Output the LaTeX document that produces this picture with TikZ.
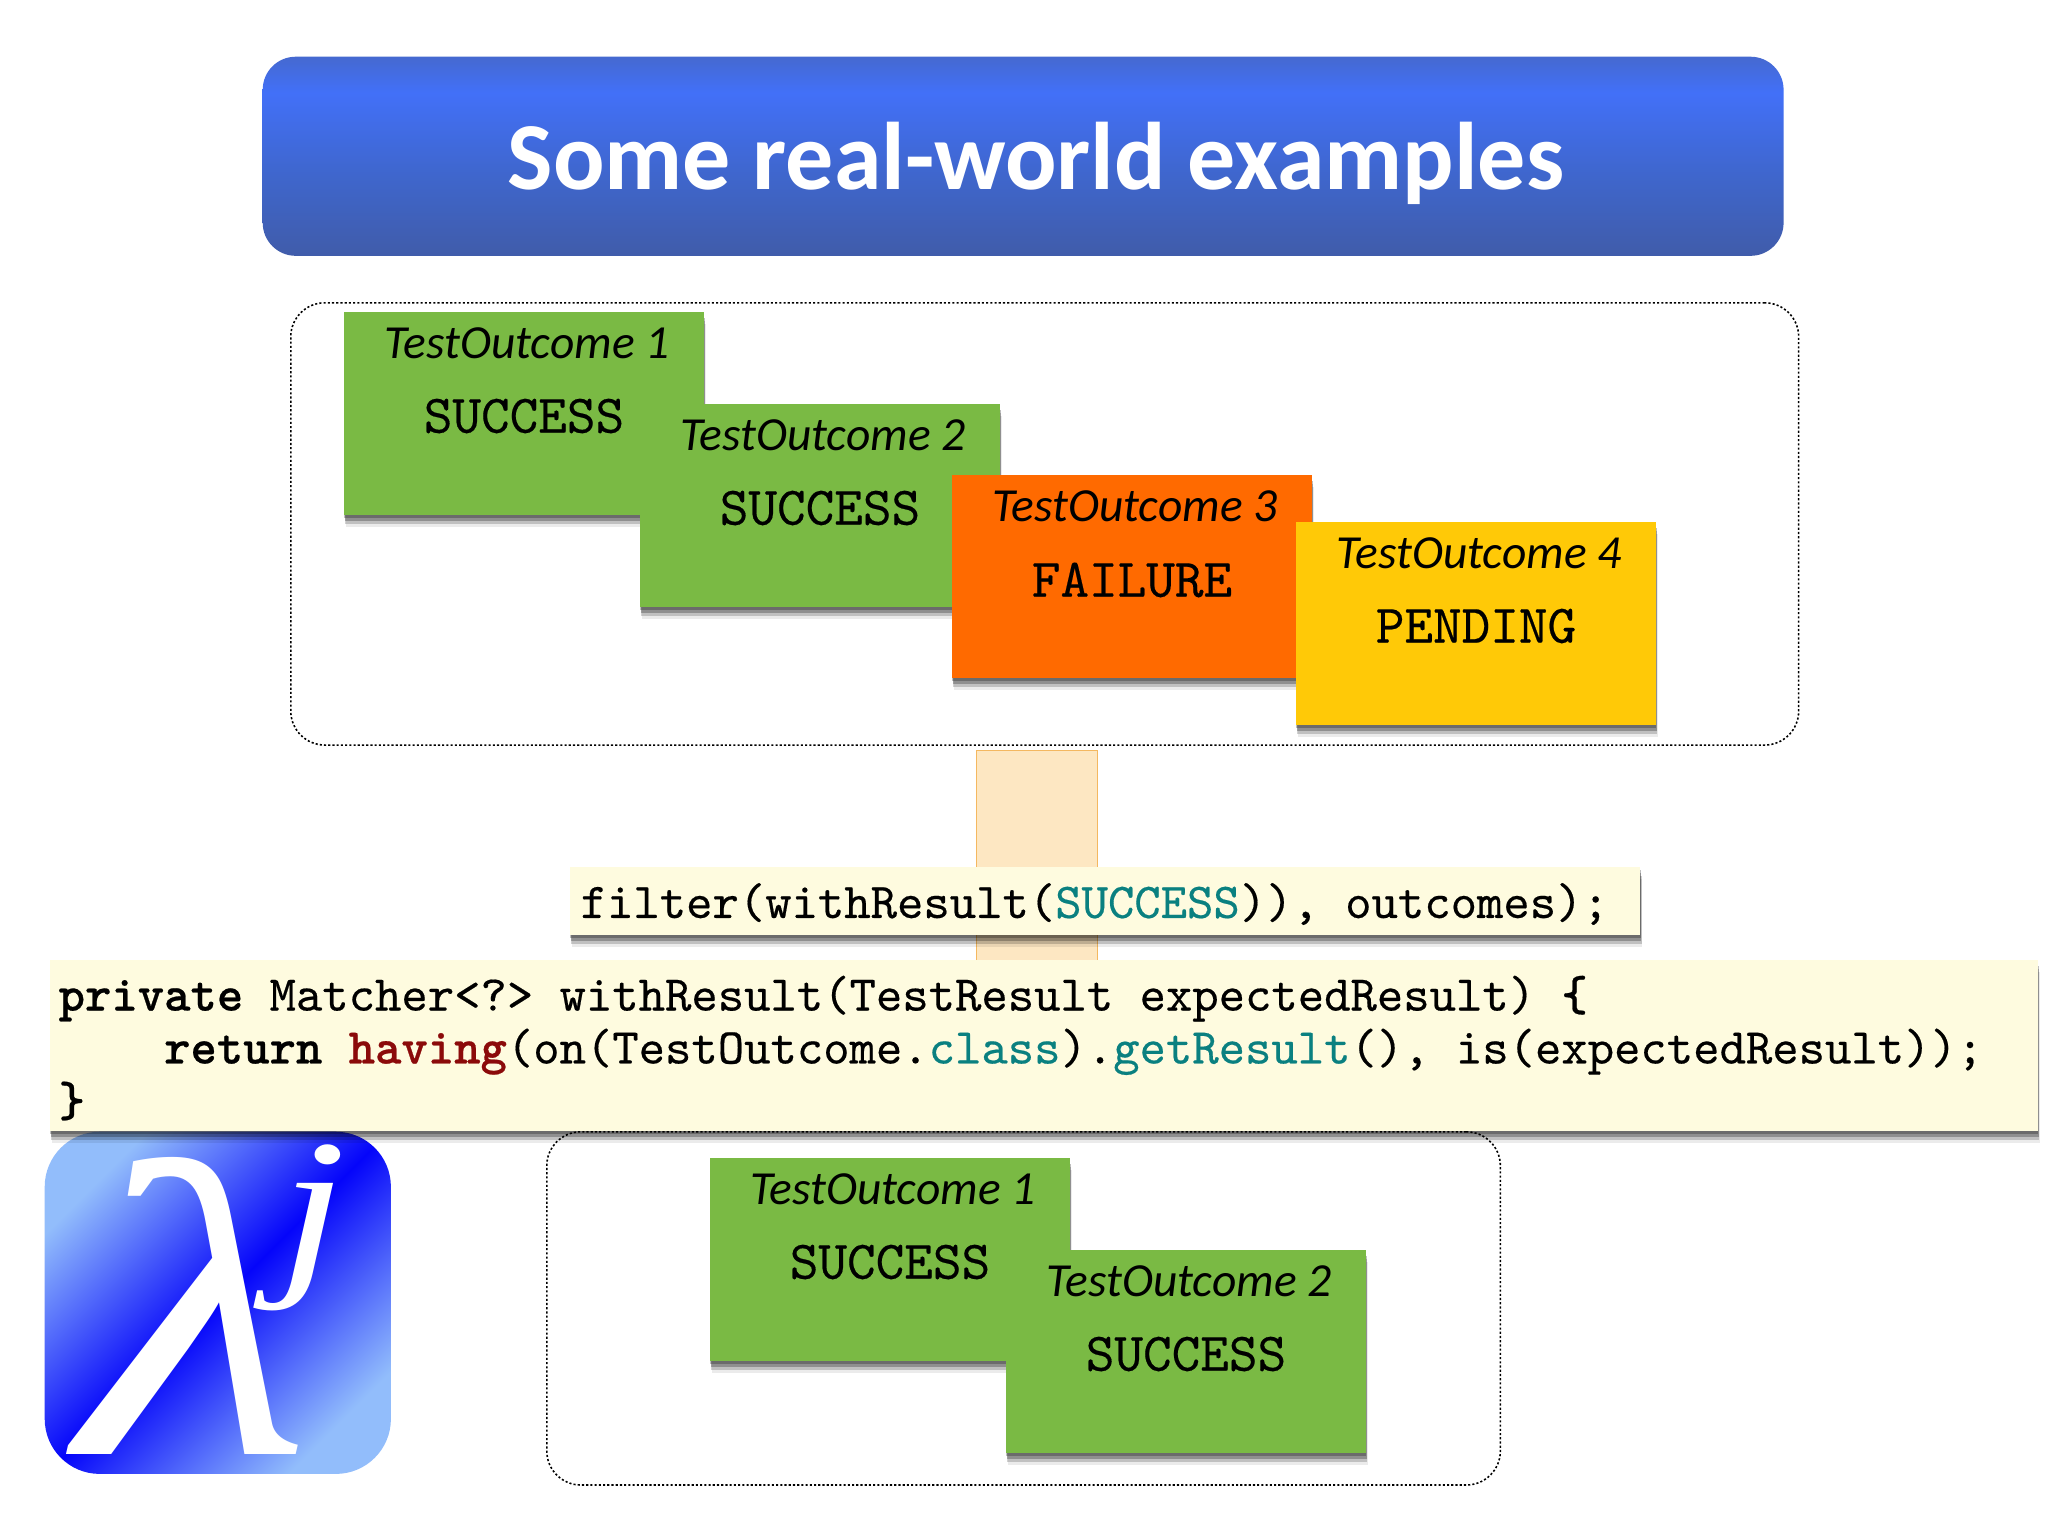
\documentclass[tikz,border=0pt]{standalone}
\usepackage{fontspec}
\setsansfont{Carlito}
\setmonofont{lmmono10-regular.otf}[BoldFont=lmmonolt10-bold.otf,FakeBold=0.35,BoldFeatures={FakeBold=0.5}]
\newfontfamily\logofont{Liberation Serif}[FakeStretch=1.27]
\usetikzlibrary{shadows}
\definecolor{cardgreen}{HTML}{7ABA44}
\definecolor{cardorange}{HTML}{FF6A00}
\definecolor{cardyellow}{HTML}{FFC907}
\definecolor{barpeach}{HTML}{FDE7C2}
\definecolor{barline}{HTML}{F4B860}
\definecolor{notefill}{HTML}{FEFBDF}
\definecolor{codeteal}{HTML}{0A8080}
\definecolor{codered}{HTML}{8B0A0A}
\definecolor{logolight}{HTML}{92BDFB}
\definecolor{logodeep}{HTML}{0505FA}
\definecolor{titlelow}{HTML}{405CAA}
\definecolor{titlemid}{HTML}{3F66CC}
\definecolor{titletop}{HTML}{4270F8}
\definecolor{titleedge}{HTML}{4569D0}
\pgfdeclareverticalshading{titleshade}{100bp}{color(0bp)=(titlelow); color(25bp)=(titlelow); color(45bp)=(titlemid); color(66bp)=(titletop); color(75bp)=(titleedge); color(100bp)=(titleedge)}
\pgfdeclareverticalshading{logoshade}{100bp}{color(0bp)=(logolight); color(25bp)=(logolight); color(50bp)=(logodeep); color(75bp)=(logolight); color(100bp)=(logolight)}
\tikzset{
  softshadow/.style={
    drop shadow={shadow xshift=0.02cm,shadow yshift=-0.12cm,fill=black,opacity=.08},
    drop shadow={shadow xshift=0.015cm,shadow yshift=-0.09cm,fill=black,opacity=.18},
    drop shadow={shadow xshift=0.01cm,shadow yshift=-0.06cm,fill=black,opacity=.25},
    drop shadow={shadow xshift=0.005cm,shadow yshift=-0.03cm,fill=black,opacity=.25}},
  card/.style={rectangle,anchor=north west,inner sep=0pt,minimum width=3.60cm,minimum height=2.03cm,softshadow},
  cardname/.style={font=\sffamily\itshape\fontsize{13.5}{16}\selectfont},
  cardstate/.style={font=\ttfamily\fontsize{15.5}{18}\selectfont},
  dotbox/.style={rectangle,anchor=north west,inner sep=0pt,draw=black,line width=0.45pt,dash pattern=on 0.6pt off 0.6pt,rounded corners=0.34cm},
  note/.style={rectangle,anchor=north west,inner sep=0pt,fill=notefill,softshadow},
  code/.style={font=\ttfamily\fontsize{14.28}{15.05}\selectfont,align=left,inner sep=0pt}
}
\begin{document}
\begin{tikzpicture}[x=0.01cm,y=-0.01cm]
\useasboundingbox[fill=white] (0,0) rectangle (2048,1536);
% Title
\node[rectangle,anchor=north west,inner sep=0pt,minimum width=15.20cm,minimum height=1.99cm,rounded corners=0.33cm,shading=titleshade] (banner) at (262,56) {};
\node[font=\sffamily\bfseries\fontsize{27.3}{32}\selectfont,text=white] (headline) at (1036,163) {Some real-world examples};
% Boxes
\node[dotbox,minimum width=15.07cm,minimum height=4.42cm] (before) at (290,302) {};
\node[dotbox,minimum width=9.53cm,minimum height=3.53cm] (after) at (546,1131) {};
% Outcomes before
\node[card,fill=cardgreen] (cardA) at (343,311) {};
\node[cardname] (nameA) at (527,343) {TestOutcome 1};
\node[cardstate] (stateA) at (524,416) {SUCCESS};
\node[card,fill=cardgreen] (cardB) at (639,403) {};
\node[cardname] (nameB) at (823,435) {TestOutcome 2};
\node[cardstate] (stateB) at (820,508) {SUCCESS};
\node[card,fill=cardorange] (cardC) at (951,474) {};
\node[cardname] (nameC) at (1135,506) {TestOutcome 3};
\node[cardstate] (stateC) at (1132,580) {FAILURE};
\node[card,fill=cardyellow] (cardD) at (1295,521) {};
\node[cardname] (nameD) at (1479,553) {TestOutcome 4};
\node[cardstate] (stateD) at (1476,626) {PENDING};
% Outcomes after
\node[card,fill=cardgreen] (cardE) at (709,1157) {};
\node[cardname] (nameE) at (893,1189) {TestOutcome 1};
\node[cardstate] (stateE) at (890,1262) {SUCCESS};
\node[card,fill=cardgreen] (cardF) at (1005,1249) {};
\node[cardname] (nameF) at (1189,1281) {TestOutcome 2};
\node[cardstate] (stateF) at (1186,1354) {SUCCESS};
% Logo
\node[rectangle,anchor=north west,inner sep=0pt,minimum width=3.46cm,minimum height=3.42cm,rounded corners=0.55cm,shading=logoshade,shading angle=45] (logo) at (44,1131) {};
\node[font=\logofont\itshape\fontsize{120}{120}\selectfont,text=white,inner sep=0pt] (lambda) at (196,1306) {λ};
\node[font=\logofont\itshape\fontsize{54}{54}\selectfont,text=white,inner sep=0pt] (jay) at (313,1228) {j};
% Bar and code
\node[rectangle,anchor=north west,inner sep=0pt,minimum width=1.21cm,minimum height=2.10cm,fill=barpeach,draw=barline,line width=0.4pt] (bar) at (976,750) {};
\node[note,minimum width=10.70cm,minimum height=0.68cm] (filterbox) at (569,866) {};
\node[code,anchor=west] (filtercode) at (580,904) {filter(withResult(\textcolor{codeteal}{SUCCESS})), outcomes);};
\node[note,minimum width=19.87cm,minimum height=1.71cm] (matcherbox) at (49,959) {};
\node[code,anchor=north west] (matchercode) at (58,975) {\textbf{private} Matcher<?> withResult(TestResult expectedResult) \textbf{\{}\\
\phantom{xxxx}\textbf{return} \textcolor{codered}{\textbf{having}}(on(TestOutcome.\textcolor{codeteal}{class}).\textcolor{codeteal}{getResult}(), is(expectedResult));\\
\textbf{\}}};
\end{tikzpicture}
\end{document}
